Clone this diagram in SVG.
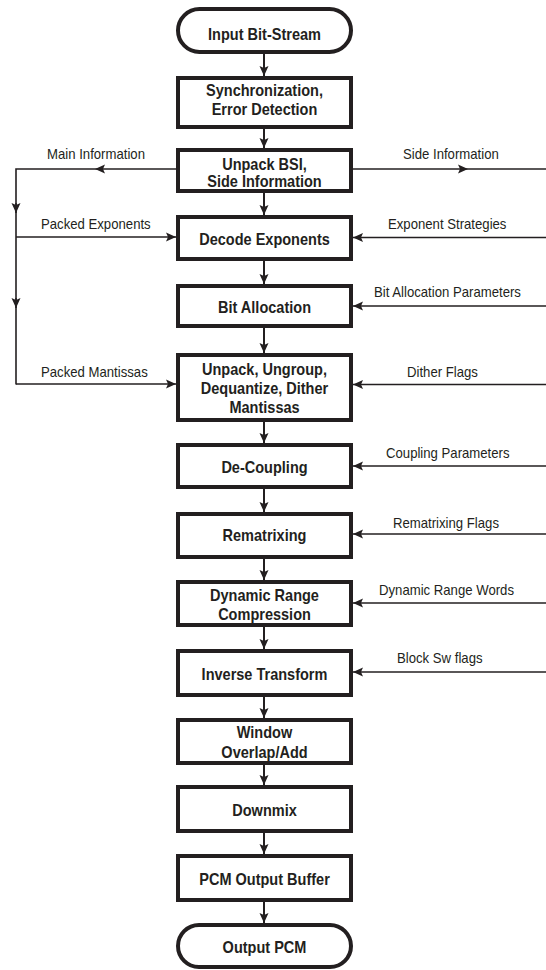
<svg xmlns="http://www.w3.org/2000/svg" width="546" height="970" viewBox="0 0 546 970">
<style>
.box{fill:#fff;stroke:#231f20;stroke-width:4}
.t{font-family:"Liberation Sans",Arial,sans-serif;font-weight:bold;font-size:16.5px;fill:#231f20;text-anchor:middle}
.s{font-family:"Liberation Sans",Arial,sans-serif;font-size:14px;fill:#231f20}
.v{stroke:#231f20;stroke-width:2;fill:none}
.h{stroke:#231f20;stroke-width:1.6;fill:none}
</style>
<defs>
<marker id="ah" viewBox="0 0 10 10" refX="10" refY="5" markerWidth="10" markerHeight="10" markerUnits="userSpaceOnUse" orient="auto">
<path d="M0,0.5 L10,5 L0,9.5 L2,5 Z" fill="#231f20"/>
</marker>
</defs>
<rect width="546" height="970" fill="#fff"/>

<g id="connectors">
<line class="v" x1="264" y1="54" x2="264" y2="76" marker-end="url(#ah)"/>
<line class="v" x1="264" y1="129" x2="264" y2="148" marker-end="url(#ah)"/>
<line class="v" x1="264" y1="189" x2="264" y2="215" marker-end="url(#ah)"/>
<line class="v" x1="264" y1="261" x2="264" y2="284" marker-end="url(#ah)"/>
<line class="v" x1="264" y1="328" x2="264" y2="353" marker-end="url(#ah)"/>
<line class="v" x1="264" y1="422" x2="264" y2="443" marker-end="url(#ah)"/>
<line class="v" x1="264" y1="489" x2="264" y2="512" marker-end="url(#ah)"/>
<line class="v" x1="264" y1="559" x2="264" y2="580" marker-end="url(#ah)"/>
<line class="v" x1="264" y1="627" x2="264" y2="649" marker-end="url(#ah)"/>
<line class="v" x1="264" y1="697" x2="264" y2="718" marker-end="url(#ah)"/>
<line class="v" x1="264" y1="757" x2="264" y2="785" marker-end="url(#ah)"/>
<line class="v" x1="264" y1="833" x2="264" y2="854" marker-end="url(#ah)"/>
<line class="v" x1="264" y1="902" x2="264" y2="923" marker-end="url(#ah)"/>
<!-- main information -->
<line class="h" x1="176" y1="169" x2="95" y2="169" marker-end="url(#ah)"/>
<polyline class="h" points="95,169 16,169 16,213"/>
<line class="h" x1="16" y1="203" x2="16" y2="213" marker-end="url(#ah)"/>
<line class="h" x1="16" y1="213" x2="16" y2="308"/>
<line class="h" x1="16" y1="298" x2="16" y2="308" marker-end="url(#ah)"/>
<line class="h" x1="16" y1="308" x2="16" y2="384.5"/>
<line class="h" x1="16" y1="237" x2="176" y2="237" marker-end="url(#ah)"/>
<line class="h" x1="16" y1="384" x2="176" y2="384" marker-end="url(#ah)"/>
<!-- side information -->
<line class="h" x1="353" y1="169" x2="468" y2="169" marker-end="url(#ah)"/>
<line class="h" x1="468" y1="169" x2="546" y2="169"/>
<line class="h" x1="546" y1="237.5" x2="353" y2="237.5" marker-end="url(#ah)"/>
<line class="h" x1="546" y1="306" x2="353" y2="306" marker-end="url(#ah)"/>
<line class="h" x1="546" y1="384.5" x2="353" y2="384.5" marker-end="url(#ah)"/>
<line class="h" x1="546" y1="466" x2="353" y2="466" marker-end="url(#ah)"/>
<line class="h" x1="546" y1="534" x2="353" y2="534" marker-end="url(#ah)"/>
<line class="h" x1="546" y1="603" x2="353" y2="603" marker-end="url(#ah)"/>
<line class="h" x1="546" y1="672" x2="353" y2="672" marker-end="url(#ah)"/>
<!-- labels -->
<text class="s" transform="translate(47,159) scale(0.94,1)">Main Information</text>
<text class="s" transform="translate(403,159) scale(0.94,1)">Side Information</text>
<text class="s" transform="translate(41,229) scale(0.94,1)">Packed Exponents</text>
<text class="s" transform="translate(388,229) scale(0.94,1)">Exponent Strategies</text>
<text class="s" transform="translate(374,297) scale(0.94,1)">Bit Allocation Parameters</text>
<text class="s" transform="translate(41,377) scale(0.94,1)">Packed Mantissas</text>
<text class="s" transform="translate(407,377) scale(0.94,1)">Dither Flags</text>
<text class="s" transform="translate(386,458) scale(0.94,1)">Coupling Parameters</text>
<text class="s" transform="translate(393,528) scale(0.94,1)">Rematrixing Flags</text>
<text class="s" transform="translate(379,595) scale(0.94,1)">Dynamic Range Words</text>
<text class="s" transform="translate(397,663) scale(0.94,1)">Block Sw flags</text>
</g>

<g id="input">
<rect class="box" x="178" y="9" width="173" height="43" rx="21.5"/>
<text class="t" transform="translate(264.5,39.5) scale(0.88,1)">Input Bit-Stream</text>
</g>
<g id="sync">
<rect class="box" x="178" y="78" width="173" height="49"/>
<text class="t" transform="translate(264.5,96) scale(0.88,1)">Synchronization,</text>
<text class="t" transform="translate(264.5,115) scale(0.88,1)">Error Detection</text>
</g>
<g id="unpackbsi">
<rect class="box" x="178" y="150" width="173" height="41"/>
<text class="t" transform="translate(264.5,170) scale(0.88,1)">Unpack BSI,</text>
<text class="t" transform="translate(264.5,186.5) scale(0.88,1)">Side Information</text>
</g>
<g id="decode">
<rect class="box" x="178" y="217" width="173" height="42"/>
<text class="t" transform="translate(264.5,245) scale(0.88,1)">Decode Exponents</text>
</g>
<g id="bitalloc">
<rect class="box" x="178" y="286" width="173" height="40"/>
<text class="t" transform="translate(264.5,313) scale(0.88,1)">Bit Allocation</text>
</g>
<g id="unpackmant">
<rect class="box" x="178" y="355" width="173" height="65"/>
<text class="t" transform="translate(264.5,375) scale(0.88,1)">Unpack, Ungroup,</text>
<text class="t" transform="translate(264.5,394) scale(0.88,1)">Dequantize, Dither</text>
<text class="t" transform="translate(264.5,413) scale(0.88,1)">Mantissas</text>
</g>
<g id="decoupling">
<rect class="box" x="178" y="445" width="173" height="42"/>
<text class="t" transform="translate(264.5,473) scale(0.88,1)">De-Coupling</text>
</g>
<g id="rematrixing">
<rect class="box" x="178" y="514" width="173" height="43"/>
<text class="t" transform="translate(264.5,541) scale(0.88,1)">Rematrixing</text>
</g>
<g id="drc">
<rect class="box" x="178" y="582" width="173" height="43"/>
<text class="t" transform="translate(264.5,601) scale(0.88,1)">Dynamic Range</text>
<text class="t" transform="translate(264.5,620) scale(0.88,1)">Compression</text>
</g>
<g id="imdct">
<rect class="box" x="178" y="651" width="173" height="44"/>
<text class="t" transform="translate(264.5,680) scale(0.88,1)">Inverse Transform</text>
</g>
<g id="window">
<rect class="box" x="178" y="720" width="173" height="43"/>
<text class="t" transform="translate(264.5,738) scale(0.88,1)">Window</text>
<text class="t" transform="translate(264.5,758) scale(0.88,1)">Overlap/Add</text>
</g>
<g id="downmix">
<rect class="box" x="178" y="787" width="173" height="44"/>
<text class="t" transform="translate(264.5,816) scale(0.88,1)">Downmix</text>
</g>
<g id="pcmbuf">
<rect class="box" x="178" y="856" width="173" height="44"/>
<text class="t" transform="translate(264.5,885) scale(0.88,1)">PCM Output Buffer</text>
</g>
<g id="output">
<rect class="box" x="178" y="925" width="173" height="42" rx="21"/>
<text class="t" transform="translate(264.5,953) scale(0.88,1)">Output PCM</text>
</g>
</svg>
